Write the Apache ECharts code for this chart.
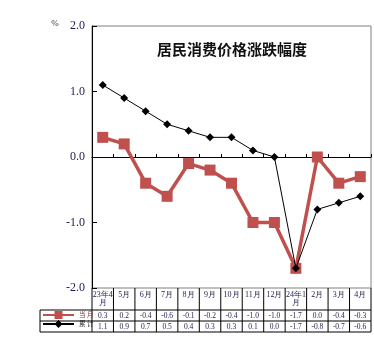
<!DOCTYPE html>
<html><head><meta charset="utf-8">
<script src="https://cdn.jsdelivr.net/npm/echarts@6/dist/echarts.min.js"></script>
<style>html,body{margin:0;padding:0;background:#fff}#c{width:374px;height:348px}</style>
</head><body><div id="c"></div>
<script>
var categories = ['23年4\n月','5月','6月','7月','8月','9月','10月','11月','12月','24年1\n月','2月','3月','4月'];
var monthly = [0.3, 0.2, -0.4, -0.6, -0.1, -0.2, -0.4, -1.0, -1.0, -1.7, 0.0, -0.4, -0.3];
var cumulative = [1.1, 0.9, 0.7, 0.5, 0.4, 0.3, 0.3, 0.1, 0.0, -1.7, -0.8, -0.7, -0.6];
var yTicks = [-2, -1, 0, 1, 2];

var serif = '"Liberation Serif", "Times New Roman", serif';
var txtColor = '#1c1c4c';
var chart = echarts.init(document.getElementById('c'), null, {renderer: 'canvas'});
var GL = 92, GR = 3, GT = 26, GB = 60;
chart.setOption({
  animation: false,
  title: {text: '居民消费价格涨跌幅度', left: 227, top: 37, textAlign: 'center',
    textStyle: {fontFamily: '"Noto Sans CJK SC", sans-serif', fontSize: 15, fontWeight: 'bold', color: '#111'}},
  grid: {left: GL, right: GR, top: GT, bottom: GB, show: true, borderColor: '#808080', borderWidth: 1},
  legend: {orient: 'vertical', left: 42, top: 311, padding: 0, itemGap: 1, itemWidth: 31, itemHeight: 10, itemTextGap: 3,
    textStyle: {fontFamily: '"Noto Sans CJK SC", sans-serif', fontSize: 6.5, color: '#222'},
    formatter: function(n){ return n.split('').join(' '); },
    data: [{name: '当月', textStyle: {color: '#7a3030'}}, {name: '累计'}]},
  xAxis: {type: 'category', data: categories, boundaryGap: true,
    axisLine: {lineStyle: {color: '#000', width: 1}},
    axisTick: {show: true, inside: true, length: 3, interval: 0, lineStyle: {color: '#000'}},
    axisLabel: {interval: 0, margin: 3, fontFamily: serif, fontSize: 8, lineHeight: 8, color: txtColor, verticalAlign: 'top'}},
  yAxis: {type: 'value', min: -2, max: 2, interval: 1,
    axisLine: {show: true, lineStyle: {color: '#000', width: 1}},
    axisTick: {show: true, inside: true, length: 5, lineStyle: {color: '#000'}},
    splitLine: {show: false},
    axisLabel: {margin: 7, fontFamily: serif, fontSize: 12, color: txtColor,
      formatter: function(v){ return v.toFixed(1); }}},
  series: [
    {name: '当月', type: 'line', data: monthly, symbol: 'rect', symbolSize: 11,
      lineStyle: {color: '#c0504d', width: 3.5}, itemStyle: {color: '#c0504d'}, z: 2},
    {name: '累计', type: 'line', data: cumulative, symbol: 'diamond', symbolSize: 8,
      lineStyle: {color: '#000', width: 1}, itemStyle: {color: '#000'}, z: 3}
  ]
});

// build the table under the axis from axis pixel positions
var c0 = chart.convertToPixel({xAxisIndex: 0}, 0);
var c1 = chart.convertToPixel({xAxisIndex: 0}, 1);
var step = c1 - c0;
var x0 = c0 - step / 2;
var xEnd = x0 + step * categories.length;
var yAxisPix = chart.convertToPixel({yAxisIndex: 0}, -2);
var yH = yAxisPix, yR1 = yH + 22, yR2 = yR1 + 11, yR3 = yR2 + 11;
var legLeft = 40;
var g = [];
function line(x1, y1, x2, y2){ g.push({type: 'line', shape: {x1: x1, y1: y1, x2: x2, y2: y2}, style: {stroke: '#000', lineWidth: 1}, silent: true}); }
line(legLeft, yR1, xEnd, yR1);
line(legLeft, yR2, xEnd, yR2);
line(legLeft, yR3, xEnd, yR3);
line(legLeft, yR1, legLeft, yR3);
for (var i = 0; i <= categories.length; i++) line(x0 + step * i, yH, x0 + step * i, yR3);
function fmt(v){ return (v < 0 ? '-' : '') + Math.abs(v).toFixed(1); }
for (var j = 0; j < categories.length; j++) {
  var cx = x0 + step * (j + 0.5);
  g.push({type: 'text', x: cx, y: (yR1 + yR2) / 2 + 0.5, style: {text: fmt(monthly[j]), fontFamily: serif, fontSize: 7.5, fill: txtColor, align: 'center', verticalAlign: 'middle'}});
  g.push({type: 'text', x: cx, y: (yR2 + yR3) / 2 + 0.5, style: {text: fmt(cumulative[j]), fontFamily: serif, fontSize: 7.5, fill: txtColor, align: 'center', verticalAlign: 'middle'}});
}
g.push({type: 'text', x: 55, y: 24, style: {text: '%', fontFamily: serif, fontSize: 9, fill: '#333', align: 'center', verticalAlign: 'middle'}});
chart.setOption({graphic: g});
</script></body></html>
